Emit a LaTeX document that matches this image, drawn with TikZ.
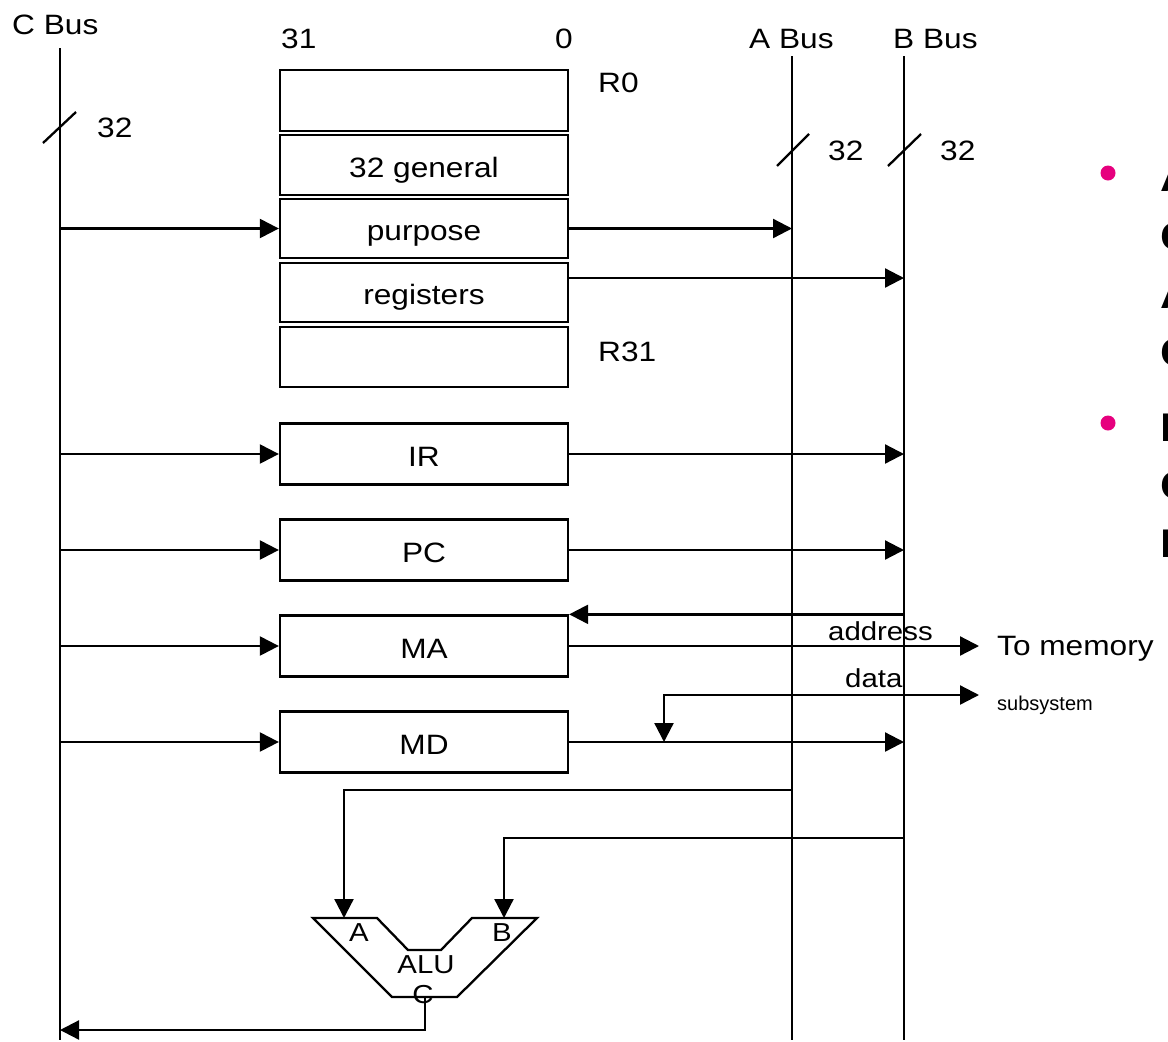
\documentclass[tikz,border=0pt]{standalone}
\usepackage{fontspec}
\setmainfont{Liberation Sans}
\usetikzlibrary{arrows.meta}
\newcommand\sx[1]{\scalebox{1.13}[1]{#1}}
\newcommand\lblfont{\fontsize{28}{33}\selectfont}
\newcommand\smallfont{\fontsize{26}{30}\selectfont}
\newcommand\tinyfont{\fontsize{20}{24}\selectfont}
\newcommand\bigbold{\fontsize{40}{48}\bfseries\selectfont}
\definecolor{bulletpink}{RGB}{230,0,126}
\tikzset{
  ln/.style={line width=2.3pt},
  arr/.style={ln,-{Triangle[length=19pt,width=19pt]}},
  arrboth/.style={ln,{Triangle[length=19pt,width=19pt]}-{Triangle[length=19pt,width=19pt]}},
  reg/.style={draw,ln,rectangle,minimum width=288pt,inner sep=0pt,font=\lblfont,
              text height=24pt,text depth=0pt},
  lbl/.style={inner sep=0pt,anchor=base west,font=\lblfont},
  clbl/.style={inner sep=0pt,font=\smallfont},
  bul/.style={inner sep=0pt,anchor=base west,font=\bigbold},
}
\begin{document}
\begin{tikzpicture}[x=1pt,y=-1pt]
\useasboundingbox (0,0) rectangle (1168,1042);
\clip (0,0) rectangle (1168,1042);
% buses
\coordinate (ct) at (60,48);  \coordinate (cb) at (60,1040);
\coordinate (at) at (792,56); \coordinate (ab) at (792,1040);
\coordinate (bt) at (904,56); \coordinate (bb) at (904,1040);
\draw[ln] (ct) -- (cb);
\draw[ln] (at) -- (ab);
\draw[ln] (bt) -- (bb);
\node[lbl] (clab) at (12,34) {\sx{C Bus}};
\node[lbl] (alab) at (749,48) {\sx{A Bus}};
\node[lbl] (blab) at (893,48) {\sx{B Bus}};
% bus width marks
\draw[ln] (43,143) -- (76,112);
\draw[ln] (777,166) -- (809,134);
\draw[ln] (888,166) -- (921,134);
\node[lbl] (w1) at (97,137) {\sx{32}};
\node[lbl] (w2) at (828,160) {\sx{32}};
\node[lbl] (w3) at (940,160) {\sx{32}};
% register file
\node[lbl] (b31) at (281,48) {\sx{31}};
\node[lbl] (b0) at (555,48) {\sx{0}};
\node[reg,minimum height=61pt] (r0) at (424,100.5) {};
\node[reg,minimum height=60pt] (r1) at (424,165) {\sx{32 general}};
\node[reg,minimum height=59pt] (r2) at (424,228.5) {\sx{purpose}};
\node[reg,minimum height=59pt] (r3) at (424,292.5) {\sx{registers}};
\node[reg,minimum height=60pt] (r4) at (424,357) {};
\node[lbl] (r0lab) at (598,92) {\sx{R0}};
\node[lbl] (r31lab) at (598,361) {\sx{R31}};
\draw[arr] (ct |- r2.west) -- (r2.west);
\draw[arr] (r2.east) -- (r2.east -| at);
\draw[arr] ([yshift=14.5pt]r3.east) -- ([yshift=14.5pt]r3.east -| bt);
% special registers
\node[reg,minimum height=61pt] (ir) at (424,454) {\sx{IR}};
\node[reg,minimum height=61pt] (pc) at (424,550) {\sx{PC}};
\node[reg,minimum height=61pt] (ma) at (424,646) {\sx{MA}};
\node[reg,minimum height=61pt] (md) at (424,742) {\sx{MD}};
\draw[arr] (ct |- ir.west) -- (ir.west);
\draw[arr] (ir.east) -- (ir.east -| bt);
\draw[arr] (ct |- pc.west) -- (pc.west);
\draw[arr] (pc.east) -- (pc.east -| bt);
\draw[arr] (ct |- ma.west) -- (ma.west);
\draw[arr] (bt |- ma.north east) -- (ma.north east);
\draw[arr] (ct |- md.west) -- (md.west);
\draw[arr] (md.east) -- (md.east -| bt);
% memory interface
\coordinate (addr) at (979,646);
\coordinate (datar) at (979,695);
\coordinate (datadn) at (664,742);
\draw[arr] (ma.east) -- (addr);
\draw[arrboth] (datar) -- (datar -| datadn) -- (datadn);
\node[lbl,font=\smallfont] (addrlab) at (828,640) {\sx{address}};
\node[lbl,font=\smallfont] (datalab) at (845,687) {\sx{data}};
\node[lbl] (tomem) at (997,655) {\sx{To memory}};
\node[lbl,font=\tinyfont] (subsys) at (997,710) {subsystem};
% ALU
\coordinate (aluA) at (344,918);
\coordinate (aluB) at (504,918);
\coordinate (aluC) at (425,997);
\draw[ln] (313,918) -- (377,918) -- (408,950) -- (441,950) -- (472,918) -- (537,918) -- (457,997) -- (392,997) -- cycle;
\node[clbl] (alua) at (359,933) {\sx{A}};
\node[clbl] (alub) at (502,933) {\sx{B}};
\node[clbl] (alun) at (426,965) {\sx{ALU}};
\node[clbl] (aluc) at (423,995) {\sx{C}};
\coordinate (atap) at (792,790);
\coordinate (btap) at (904,838);
\coordinate (cout) at (425,1030);
\draw[arr] (atap) -- (atap -| aluA) -- (aluA);
\draw[arr] (btap) -- (btap -| aluB) -- (aluB);
\draw[arr] (aluC) -- (cout) -- (cout -| ct);
% cut-off bullet text on the right (cut by the picture's edge, as in the reference)
\fill[bulletpink] (1108,173) circle (7.5pt);
\fill[bulletpink] (1108,423) circle (7.5pt);
\node[bul] (t1) at (1160,191) {\sx{A}};
\node[bul] (t2) at (1160,250) {\sx{C}};
\node[bul] (t3) at (1160,308) {\sx{A}};
\node[bul] (t4) at (1160,366) {\sx{C}};
\node[bul] (t5) at (1160,441) {\sx{E}};
\node[bul] (t6) at (1160,499) {\sx{C}};
\node[bul] (t7) at (1160,557) {\sx{E}};
\end{tikzpicture}
\end{document}
